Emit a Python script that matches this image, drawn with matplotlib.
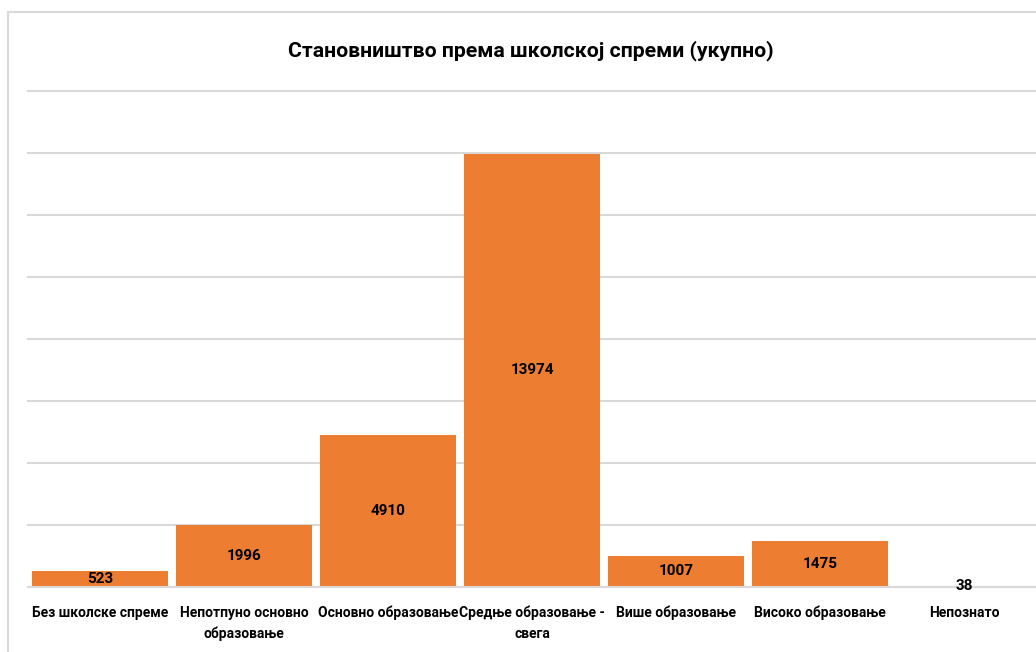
import matplotlib
matplotlib.use('Agg')
import matplotlib.pyplot as plt
from matplotlib.patches import Rectangle

plt.rcParams['font.family'] = ['Roboto', 'DejaVu Sans']

# categories and counts (total population by education level)
categories = ['Без школске спреме', 'Непотпуно основно\nобразовање', 'Основно образовање',
              'Средње образовање -\nсвега', 'Више образовање', 'Високо образовање', 'Непознато']
values = [523, 1996, 4910, 13974, 1007, 1475, 38]
title = 'Становништво према школској спреми (укупно)'

bar_color = '#ED7D31'
grid_color = '#D9D9D9'

fig = plt.figure(figsize=(10.36, 6.52), dpi=100)
ax = fig.add_axes([28 / 1036, 1 - 587 / 652, 1 - 28 / 1036, (587 - 91) / 652])

x = range(len(categories))
bars = ax.bar(x, values, width=0.94, color=bar_color, zorder=2)

ax.set_xlim(-0.5, len(categories) - 0.5)
ax.set_ylim(0, 16000)
ax.set_yticks(range(0, 16001, 2000))
ax.yaxis.grid(True, color=grid_color, linewidth=1.5, zorder=0)
for gl in ax.get_ygridlines():
    gl.set_clip_on(False)
ax.axhline(0, color=grid_color, linewidth=1.5, zorder=3)
ax.tick_params(axis='y', left=False, labelleft=False)
ax.tick_params(axis='x', length=0, pad=13.5)
for s in ax.spines.values():
    s.set_visible(False)

ax.set_xticks(list(x))
ax.set_xticklabels(categories, fontsize=10, fontweight='bold', linespacing=1.6)

ax.bar_label(bars, labels=[str(v) for v in values], label_type='center',
             fontsize=11, fontweight='bold', color='black')

fig.text(0.512, 1 - 51 / 652, title, ha='center', va='center',
         fontsize=15.3, fontweight='bold')

# chart frame, cut off at right and bottom
fig.patches.append(Rectangle((8 / 1036, -0.1), 1.2, 1.1 - 12 / 652,
                             transform=fig.transFigure, fill=False,
                             edgecolor='#D9D9D9', linewidth=1.5))

fig.savefig('out.png', dpi=100)
